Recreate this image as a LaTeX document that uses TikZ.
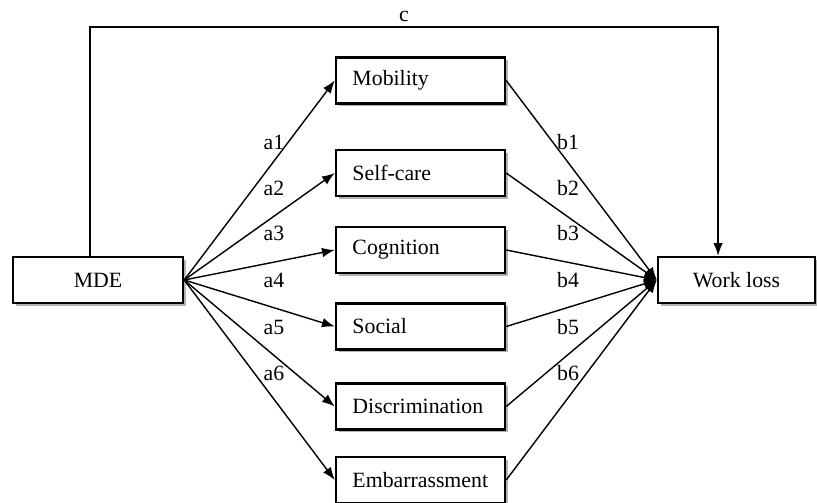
\documentclass[tikz,border=0pt]{standalone}
\usepackage{fontspec}
\setmainfont{Liberation Serif}
\usetikzlibrary{arrows.meta,shadows}

\begin{document}
\begin{tikzpicture}[x=0.025cm, y=-0.025cm, font=\fontsize{15.5}{18}\selectfont,
    box/.style={draw, line width=1.7pt, fill=white, minimum height=1.15cm,
        drop shadow={shadow xshift=0.07cm, shadow yshift=-0.07cm, fill=black!30, opacity=1}},
    medbox/.style={box, minimum width=4.225cm, text width=3.4cm, inner xsep=0.41cm, align=left},
    link/.style={line width=1pt, -{Latex[length=0.32cm, width=0.24cm]}}]
    \useasboundingbox (0,0) rectangle (817,502);

    \node[box, minimum width=4.25cm] (mde) at (98,280) {MDE};
    \node[box, minimum width=3.925cm] (work) at (736.5,280) {Work loss};

    % mediators
    \foreach \name/\txt/\y in {mob/Mobility/80.5, self/Self-care/173, cog/Cognition/250,
        soc/Social/326.5, disc/Discrimination/406.5, emb/Embarrassment/480}
        \node[medbox] (\name) at (420.5,\y) {\txt};

    \foreach \name in {mob,self,cog,soc,disc,emb} {
        \draw[link] (mde.east) -- (\name.west);
        \draw[link] (\name.east) -- (work.west);
    }

    % path coefficients
    \foreach \i/\y in {1/142, 2/188, 3/233, 4/280, 5/327, 6/373} {
        \node (la\i) at (274,\y) {a\i};
        \node (lb\i) at (568,\y) {b\i};
    }

    % direct effect
    \coordinate (ctop) at (404,27);
    \node[above] (lc) at (ctop) {c};
    \draw[link] ([xshift=-0.2cm]mde.north) |- (ctop) -| ([xshift=-0.46cm]work.north);
\end{tikzpicture}
\end{document}
